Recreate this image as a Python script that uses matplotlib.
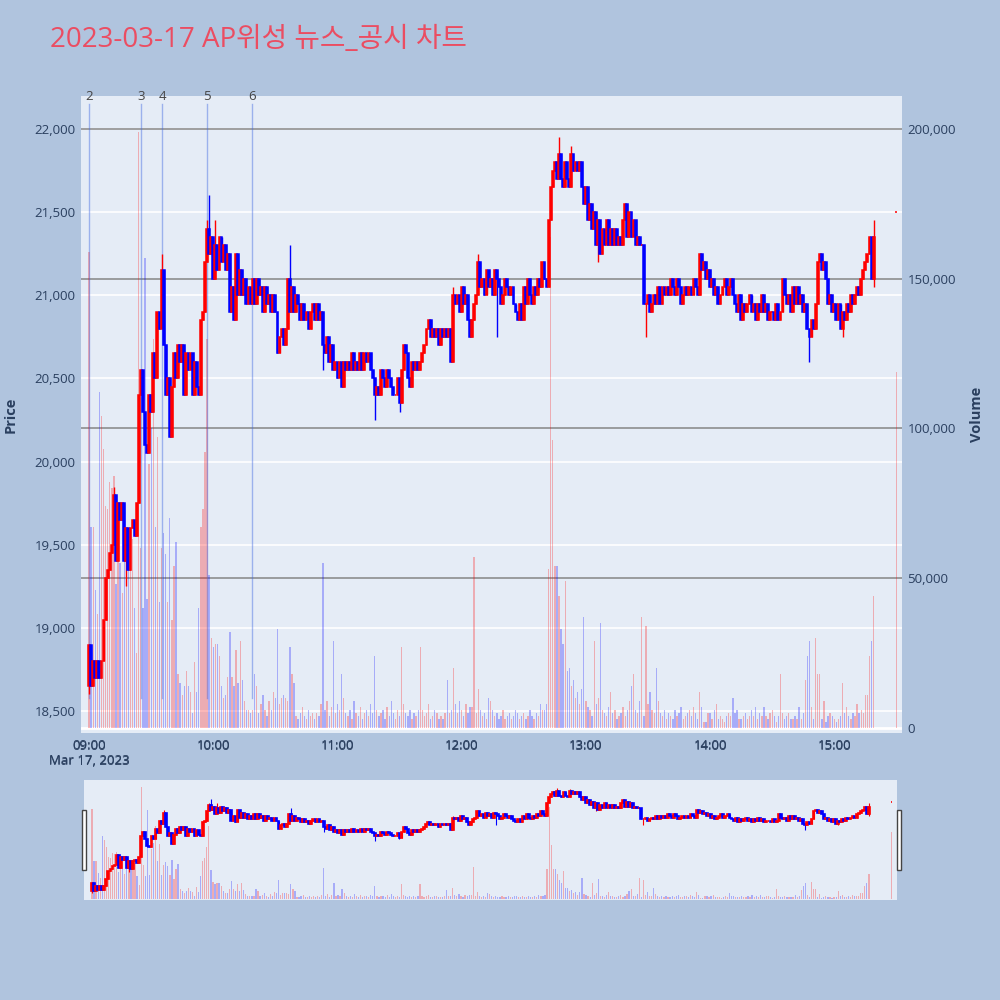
import matplotlib.pyplot as plt
import numpy as np
from matplotlib.patches import Rectangle

plt.rcParams['font.family'] = ['Open Sans', 'Noto Sans CJK KR', 'DejaVu Sans']

title = "2023-03-17 AP위성 뉴스_공시 차트"

# 1-minute closes from 09:00 (minute 0) to 15:19 (minute 379)
open0 = 18650
close = [
    18900, 18650, 18800, 18700, 18800, 18700, 18800, 19050, 19300, 19350,
    19450, 19500, 19800, 19400, 19750, 19650, 19750, 19400, 19600, 19350,
    19600, 19650, 19550, 19750, 20400, 20550, 20300, 20100, 20050, 20400,
    20300, 20650, 20500, 20900, 20800, 21150, 20700, 20400, 20500, 20150,
    20450, 20650, 20500, 20700, 20600, 20700, 20400, 20650, 20550, 20650,
    20400, 20600, 20450, 20400, 20850, 20900, 21200, 21400, 21250, 21350,
    21100, 21300, 21150, 21350, 21200, 21300, 21150, 21250, 20900, 21050,
    20850, 21250, 21000, 21150, 21000, 21100, 20950, 21050, 20950, 21100,
    20950, 21100, 21000, 21050, 20900, 21050, 20950, 21000, 20900, 21000,
    20900, 20650, 20750, 20800, 20700, 20800, 21100, 20900, 21050, 20900,
    21000, 20950, 20850, 20950, 20850, 20900, 20800, 20900, 20950, 20850,
    20950, 20850, 20900, 20700, 20650, 20750, 20600, 20700, 20550, 20600,
    20500, 20600, 20450, 20600, 20550, 20600, 20550, 20650, 20550, 20600,
    20550, 20650, 20550, 20650, 20600, 20650, 20550, 20500, 20400, 20450,
    20400, 20550, 20500, 20450, 20550, 20500, 20450, 20400, 20400, 20500,
    20350, 20550, 20700, 20650, 20500, 20450, 20600, 20550, 20600, 20550,
    20600, 20650, 20700, 20800, 20850, 20750, 20800, 20750, 20800, 20700,
    20800, 20750, 20800, 20750, 20800, 20600, 21000, 20950, 21000, 20900,
    21050, 20950, 21000, 20850, 20750, 20850, 20950, 21000, 21200, 21050,
    21100, 21000, 21150, 21050, 21100, 21000, 21150, 21100, 21050, 20950,
    21000, 21100, 21050, 21000, 21050, 20950, 20900, 20850, 20950, 20850,
    21050, 20950, 21100, 21000, 20950, 21050, 21000, 21100, 21050, 21200,
    21100, 21050, 21450, 21650, 21750, 21800, 21700, 21850, 21700, 21650,
    21800, 21700, 21650, 21850, 21750, 21800, 21750, 21800, 21650, 21550,
    21650, 21450, 21550, 21400, 21500, 21300, 21450, 21250, 21400, 21300,
    21450, 21300, 21400, 21300, 21400, 21300, 21350, 21300, 21450, 21550,
    21350, 21500, 21350, 21450, 21300, 21350, 21300, 21300, 20950, 20950,
    21000, 20900, 20950, 21000, 20950, 21050, 20950, 21050, 21000, 21050,
    21000, 21100, 21050, 21000, 21100, 21050, 20950, 21000, 21050, 21000,
    21050, 21000, 21100, 21050, 21000, 21250, 21150, 21200, 21100, 21150,
    21050, 21100, 21000, 21050, 20950, 21000, 21050, 21100, 21000, 21050,
    21100, 21000, 20950, 20900, 21000, 20850, 20950, 20900, 20950, 21000,
    20900, 20950, 20850, 20950, 20900, 21000, 20900, 20950, 20850, 20900,
    20900, 20850, 20950, 20850, 20900, 21100, 21000, 20950, 21000, 20900,
    21050, 20950, 21050, 20950, 21000, 20900, 20950, 20800, 20750, 20850,
    20800, 20950, 21200, 21250, 21150, 21200, 21100, 20950, 21000, 20900,
    20950, 20850, 20950, 20800, 20900, 20850, 20950, 20900, 21000, 20950,
    21000, 21050, 21000, 21100, 21150, 21200, 21250, 21350, 21100, 21350,
]

# volume per minute, thousands of shares
volume_k = [
    159, 67, 67, 46, 38, 112, 104, 93, 74, 73,
    82, 80, 84, 48, 64, 55, 45, 60, 56, 57,
    56, 63, 40, 25, 199, 60, 40, 157, 43, 88,
    100, 130, 67, 97, 42, 60, 65, 58, 42, 70,
    36, 54, 62, 18, 15, 11, 14, 19, 14, 12,
    5, 22, 12, 40, 67, 73, 92, 130, 51, 30,
    27, 28, 28, 24, 14, 10, 11, 17, 32, 17,
    14, 26, 15, 29, 16, 9, 6, 6, 5, 6,
    18, 14, 5, 8, 11, 6, 4, 9, 6, 12,
    10, 33, 8, 10, 11, 10, 9, 27, 18, 15,
    4, 3, 5, 7, 4, 3, 6, 4, 5, 3,
    5, 4, 8, 55, 6, 9, 4, 7, 29, 5,
    8, 6, 18, 10, 5, 4, 6, 3, 9, 5,
    4, 7, 3, 5, 6, 4, 8, 5, 24, 6,
    4, 5, 6, 3, 7, 4, 9, 5, 3, 6,
    4, 27, 8, 5, 4, 6, 3, 5, 4, 6,
    27, 6, 4, 5, 8, 3, 4, 6, 5, 3,
    4, 3, 5, 16, 5, 6, 20, 8, 5, 9,
    6, 4, 8, 5, 7, 7, 57, 5, 13, 6,
    4, 5, 3, 10, 9, 6, 4, 5, 3, 4,
    6, 3, 4, 5, 3, 4, 6, 5, 3, 4,
    5, 3, 4, 6, 4, 3, 5, 4, 8, 6,
    6, 8, 53, 164, 96, 54, 54, 44, 33, 28,
    49, 19, 20, 14, 16, 10, 12, 8, 13, 37,
    9, 7, 6, 4, 29, 8, 10, 35, 6, 5,
    4, 7, 12, 5, 6, 3, 4, 5, 7, 4,
    6, 9, 14, 18, 6, 5, 9, 37, 4, 34,
    8, 12, 6, 5, 20, 9, 5, 4, 6, 3,
    5, 4, 3, 6, 4, 5, 7, 3, 4, 5,
    6, 4, 7, 5, 3, 12, 7, 2, 2, 5,
    5, 3, 6, 8, 3, 4, 3, 2, 4, 5,
    4, 10, 5, 6, 3, 3, 4, 5, 3, 4,
    6, 4, 7, 3, 5, 4, 7, 4, 3, 5,
    6, 4, 2, 4, 18, 5, 3, 4, 5, 3,
    3, 4, 3, 7, 3, 5, 16, 24, 29, 7,
    3, 30, 18, 18, 3, 9, 2, 4, 5, 4,
    3, 2, 3, 4, 15, 5, 7, 4, 3, 5,
    4, 8, 5, 6, 5, 11, 11, 24, 29, 44,
]

# wicks beyond the body (minute: price)
wick_hi = {12: 19850, 35: 21250, 57: 21450, 58: 21600, 61: 21450, 97: 21300,
           176: 21050, 188: 21250, 227: 21950, 233: 21900, 260: 21550,
           295: 21250, 353: 21250, 379: 21450}
wick_lo = {0: 18600, 18: 19250, 113: 20550, 138: 20250, 150: 20300,
           197: 20750, 246: 21200, 269: 20750, 348: 20600, 364: 20750,
           379: 21050}

# closing auction at 15:30
auction_min = 390
auction_price = 21500
auction_vol_k = 119

# news markers (minutes after 09:00)
news_labels = ["2", "3", "4", "5", "6"]
news_min = [0.2, 25.1, 35.3, 57.0, 78.7]

UP, DOWN = '#FF0000', '#0000FF'

mins = list(range(len(close))) + [auction_min]
opens = [open0] + close[:-1] + [auction_price]
closes = close + [auction_price]
highs, lows = [], []
for i, (o, c) in enumerate(zip(opens, closes)):
    highs.append(max(o, c, wick_hi.get(i, 0)))
    lows.append(min(o, c, wick_lo.get(i, 10 ** 9)))
vols = [v * 1000 for v in volume_k] + [auction_vol_k * 1000]
cols = [UP if c >= o else DOWN for o, c in zip(opens, closes)]
mins = np.array(mins)
opens = np.array(opens)
closes = np.array(closes)
body = closes - opens

XLIM = (-3.9, 392.7)
PLIM = (18368, 22198)
VLIM = (-1700, 211000)


def draw(axp, axv, body_w, edge_lw, wick_lw, vol_w):
    axv.bar(mins, vols, width=vol_w, color=cols, alpha=0.27, linewidth=0, zorder=2)
    axp.vlines(mins, lows, highs, colors=cols, lw=wick_lw, zorder=3)
    axp.bar(mins, body, bottom=opens, width=body_w, color=cols,
            edgecolor=cols, linewidth=edge_lw, zorder=4)
    for a in (axp, axv):
        a.set_xlim(*XLIM)
        for s in a.spines.values():
            s.set_visible(False)
    axp.set_ylim(*PLIM)
    axv.set_ylim(*VLIM)


fig = plt.figure(figsize=(10, 10), dpi=100, facecolor='#B0C4DE')

# main panel: volume axis behind, price axis on top
pos = [0.081, 0.267, 0.821, 0.637]
axv = fig.add_axes(pos, facecolor='#E5ECF6')
ax = fig.add_axes(pos, sharex=axv)
ax.patch.set_visible(False)

draw(ax, axv, 0.9, 1.1, 1.0, 0.65)

price_ticks = np.arange(18500, 22001, 500)
for p in price_ticks:
    axv.plot([0, 1], [p, p], transform=ax.get_yaxis_transform(),
             color='white', lw=1.2, zorder=0.5)
for v in [50000, 100000, 150000, 200000]:
    axv.axhline(v, color='#858585', lw=1.1, zorder=0.8)
axv.axhline(0, color='white', lw=2, zorder=0.6)

tick_col = '#2a3f5f'
ax.set_yticks(price_ticks)
ax.set_yticklabels([f"{p:,}" for p in price_ticks])
axv.yaxis.tick_right()
axv.yaxis.set_label_position('right')
axv.set_yticks([0, 50000, 100000, 150000, 200000])
axv.set_yticklabels(["0", "50,000", "100,000", "150,000", "200,000"])
xt = [0, 60, 120, 180, 240, 300, 360]
ax.set_xticks(xt)
ax.set_xticklabels(["09:00\nMar 17, 2023", "10:00", "11:00", "12:00",
                    "13:00", "14:00", "15:00"], linespacing=1.2)
for a in (ax, axv):
    a.tick_params(length=0, labelsize=9.5, colors=tick_col, pad=4)
ax.tick_params(axis='x', pad=5)
ax.set_ylabel("Price", fontsize=10.5, fontweight='bold', color=tick_col, labelpad=12)
axv.set_ylabel("Volume", fontsize=10.5, fontweight='bold', color=tick_col, labelpad=10)

# news lines
for lab, m in zip(news_labels, news_min):
    ax.plot([m, m], [18580, 22150], color='royalblue', alpha=0.45, lw=1, zorder=2.5)
    ax.text(m, 1.0, lab, transform=ax.get_xaxis_transform(), ha='center', va='center',
            fontsize=9.5, color='#444444')

fig.text(0.05, 0.96, title, fontsize=20, color='#EB4D62', ha='left', va='center')

# range slider
spos = [0.084, 0.100, 0.813, 0.120]
sv = fig.add_axes(spos, facecolor='#E5ECF6')
sp = fig.add_axes(spos, sharex=sv)
sp.patch.set_visible(False)
draw(sp, sv, 0.9, 1.2, 0.8, 0.6)
for a in (sp, sv):
    a.set_xticks([])
    a.set_yticks([])
for x0 in (0.0817, 0.8965):
    fig.patches.append(Rectangle((x0, 0.130), 0.004, 0.060, transform=fig.transFigure,
                                 facecolor='white', edgecolor='#444444', lw=1))

fig.savefig('out.png', dpi=100, facecolor=fig.get_facecolor())
